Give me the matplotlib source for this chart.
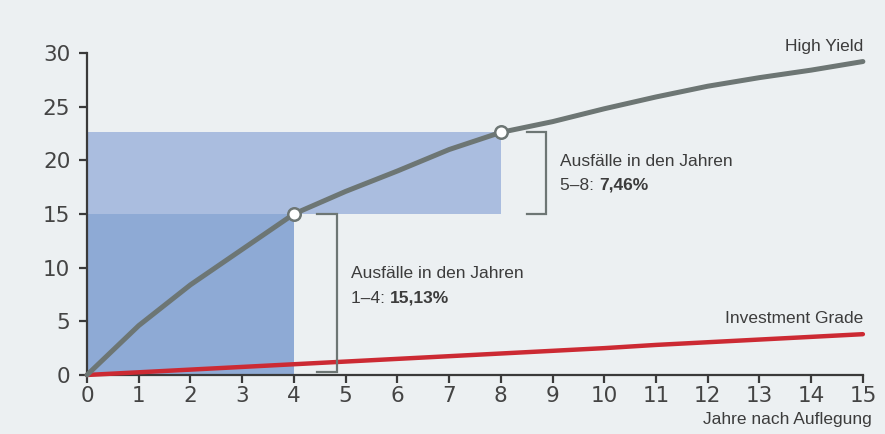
import matplotlib
matplotlib.use("Agg")
import matplotlib.pyplot as plt

years = [0, 1, 2, 3, 4, 5, 6, 7, 8, 9, 10, 11, 12, 13, 14, 15]
high_yield = [0, 4.6, 8.4, 11.7, 15.0, 17.1, 19.0, 21.0, 22.6, 23.6, 24.8, 25.9, 26.9, 27.7, 28.4, 29.2]
invest_grade = [0, 0.25, 0.5, 0.75, 1.0, 1.25, 1.5, 1.75, 2.0, 2.25, 2.5, 2.8, 3.05, 3.3, 3.55, 3.8]
x_ticks = list(range(0, 16))
y_ticks = [0, 5, 10, 15, 20, 25, 30]
label_hy = "High Yield"
label_ig = "Investment Grade"
x_label = "Jahre nach Auflegung"
period1 = (0, 4)
period2 = (4, 8)
note1 = ("Ausfälle in den Jahren", "1–4: ", "15,13%")
note2 = ("Ausfälle in den Jahren", "5–8: ", "7,46%")

BG = "#ecf0f2"
GRAY = "#6d7674"
RED = "#cc2a33"
DARK_BLUE = "#8eaad5"
LIGHT_BLUE = "#aabddf"
TXT = "#3c3c3c"
FONT = ["Liberation Sans", "DejaVu Sans"]
FS = 12.5

fig = plt.figure(figsize=(8.85, 4.34), dpi=100, facecolor=BG)
ax = fig.add_axes([0.0983, 0.136, 0.8767, 0.742])
ax.set_facecolor(BG)
ax.set_xlim(0, 15)
ax.set_ylim(0, 30)

hy = dict(zip(years, high_yield))
y4 = hy[period1[1]]
y8 = hy[period2[1]]

# shaded regions
ax.fill_between([period1[0], period1[1]], 0, y4, color=DARK_BLUE, lw=0, zorder=1)
ax.fill_between([0, period2[1]], y4, y8, color=LIGHT_BLUE, lw=0, zorder=1)

# lines
ax.plot(years, invest_grade, color=RED, lw=3.2, solid_capstyle="round", zorder=3, clip_on=False)
ax.plot(years, high_yield, color=GRAY, lw=3.6, solid_capstyle="round", solid_joinstyle="round",
        zorder=4, clip_on=False)
ax.plot([period1[1], period2[1]], [y4, y8], "o", ms=9, mfc="white", mec=GRAY, mew=1.8, zorder=5)

# brackets
def bracket(xb, y_lo, y_hi, arm):
    ax.plot([xb - arm, xb, xb, xb - arm], [y_hi, y_hi, y_lo, y_lo], color=GRAY, lw=1.6,
            zorder=4, clip_on=False, solid_joinstyle="miter")

bracket(4.83, 0.3, y4, 0.38)
bracket(8.88, y4, y8, 0.38)

def note(x, y, lines):
    ax.text(x, y, lines[0], fontsize=FS, color=TXT, family=FONT, va="baseline", ha="left")
    t = ax.text(x, y - 2.25, lines[1], fontsize=FS, color=TXT, family=FONT, va="baseline", ha="left")
    ax.annotate(lines[2], xy=(1, 0), xycoords=t, va="bottom", ha="left", fontsize=FS,
                color=TXT, family=FONT, fontweight="bold")

note(5.1, 9.0, note1)
note(9.15, 19.5, note2)

ax.text(15, 29.9, label_hy, fontsize=FS, color=TXT, family=FONT, ha="right", va="bottom")
ax.text(15, 4.6, label_ig, fontsize=FS, color=TXT, family=FONT, ha="right", va="bottom")
fig.text(0.985, 0.015, x_label, fontsize=FS, color=TXT, family=FONT, ha="right", va="bottom")

# axes styling
for s in ["top", "right"]:
    ax.spines[s].set_visible(False)
for s in ["left", "bottom"]:
    ax.spines[s].set_color("#3a3a3a")
    ax.spines[s].set_linewidth(1.6)
ax.set_xticks(x_ticks)
ax.set_yticks(y_ticks)
ax.tick_params(axis="both", colors="#3a3a3a", width=1.6, length=6, labelsize=15.5,
               labelcolor="#444444")
ax.tick_params(axis="x", pad=2)
ax.tick_params(axis="y", pad=6)
for lab in ax.get_xticklabels() + ax.get_yticklabels():
    lab.set_family("DejaVu Sans")

fig.savefig("out.png", dpi=100, facecolor=BG)
